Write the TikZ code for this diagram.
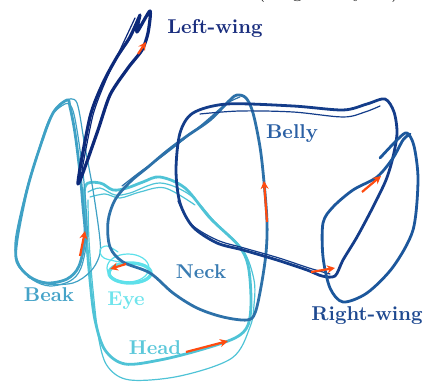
\documentclass[tikz,border=0pt]{standalone}
\usetikzlibrary{arrows.meta}
\definecolor{cLW}{HTML}{0C297A}
\definecolor{cBE}{HTML}{143D8A}
\definecolor{cRW}{HTML}{1C579C}
\definecolor{cNE}{HTML}{2D71A9}
\definecolor{cBK}{HTML}{3FA1C5}
\definecolor{cHD}{HTML}{4FC3D6}
\definecolor{cEY}{HTML}{5EE0EA}
\definecolor{arr}{HTML}{FF4B0F}
\definecolor{lLW}{HTML}{1A2E7E}
\definecolor{lBE}{HTML}{2B60A4}
\definecolor{lRW}{HTML}{1E4990}
\definecolor{lNE}{HTML}{3A7CB2}
\definecolor{lBK}{HTML}{45A3C8}
\definecolor{lEY}{HTML}{70E4EC}
\definecolor{lHD}{HTML}{5CC8DA}
\begin{document}
\begin{tikzpicture}[x=0.5pt,y=-0.5pt,
  stk/.style={line width=1.4pt,line cap=round,line join=round},
  thn/.style={line width=0.6pt,line cap=round,line join=round},
  dirarrow/.style={draw=arr,line width=1.1pt,-{Stealth[length=4pt,width=4pt]}},
  lab/.style={font=\bfseries,inner sep=0pt}]
\useasboundingbox (0,0) rectangle (427,383);
\clip (0,0) rectangle (427,383);

% top caption (cut off by the picture's top edge)
\node[anchor=base west,inner sep=0pt] (topcap) at (257,-2) {(\hspace{13.6pt}g\hspace{25.4pt}y\hspace{13.8pt})};

% Head
\draw[stk,cHD] plot[smooth cycle,tension=0.55] coordinates {(85,187) (100,183) (113,190) (127,188) (143,182) (160,177) (185,188) (210,218) (238,245) (248,265) (251,300) (248,325) (235,338) (200,350) (160,360) (125,364) (105,350) (95,320) (90,280) (86,230)};
\draw[thn,cHD] plot[smooth,tension=0.55] coordinates {(88,192) (100,188) (115,195) (130,193) (160,183) (190,195) (215,222) (243,250) (254,280) (254,305) (250,327) (232,358) (180,376) (130,380) (108,367) (99,340) (93,290) (89,240) (88,200)};
\draw[thn,cHD] plot[smooth,tension=0.55] coordinates {(90,197) (105,194) (120,198) (140,192) (165,188) (195,205)};

% Beak
\draw[stk,cBK] plot[smooth cycle,tension=0.55] coordinates {(67,100) (53,113) (40,147) (27,190) (17,240) (17,262) (30,277) (47,283) (67,279) (79,266) (85,237) (83,207) (80,173) (75,133) (70,107)};
\draw[thn,cBK] plot[smooth cycle,tension=0.55] coordinates {(65,104) (50,118) (38,152) (25,195) (15,243) (20,266) (33,280) (50,286) (70,281) (81,268) (87,238) (86,207) (83,173) (77,130) (72,108)};
\draw[thn,cBK] plot[smooth,tension=0.55] coordinates {(67,100) (77,103) (85,147) (93,190) (100,240) (99,257) (90,272) (73,283) (47,284) (28,277)};

% Eye
\draw[stk,cEY,line width=1.7pt] (130,273) ellipse [x radius=21,y radius=10];
\draw[thn,cEY] (128,268) ellipse [x radius=21,y radius=14];
\draw[thn,cEY] plot[smooth,tension=0.6] coordinates {(120,262) (104,258) (100,250) (107,246) (118,252)};

% Neck
\draw[stk,cNE] plot[smooth cycle,tension=0.55] coordinates {(123,262) (150,273) (173,293) (197,308) (223,317) (247,320) (255,313) (261,287) (266,253) (267,222) (264,182) (260,147) (253,113) (246,98) (237,95) (230,100) (210,120) (187,136) (167,151) (148,167) (130,182) (115,200) (108,222) (110,247)};
\draw[thn,cNE] plot[smooth,tension=0.55] coordinates {(240,97) (226,104) (205,122) (183,140) (160,158) (140,172) (122,186)};

% Belly
\draw[stk,cBE] plot[smooth cycle,tension=0.5] coordinates {(193,113) (227,104) (293,106) (343,110) (367,104) (385,99) (394,112) (397,133) (393,157) (386,180) (373,207) (357,237) (343,260) (335,276) (322,276) (307,270) (277,260) (243,250) (217,243) (193,227) (180,203) (176,170) (180,133)};
\draw[thn,cBE] plot[smooth,tension=0.55] coordinates {(200,114) (240,111) (293,112) (343,117) (365,112) (380,106)};
\draw[thn,cBE] plot[smooth,tension=0.55] coordinates {(178,201) (191,224) (217,240) (244,248) (279,258) (309,268) (330,274)};

% Right-wing
\draw[stk,cRW] plot[smooth,tension=0.5] coordinates {(380,158) (398,139) (407,133) (414,146) (418,180) (413,230) (393,267) (367,293) (343,302) (330,288) (323,257) (323,223) (333,207) (353,190) (377,177) (393,158) (403,140) (410,134)};

% Left-wing
\draw[stk,cLW,line width=1.6pt] plot[smooth,tension=0.45] coordinates {(140,15) (137,32) (150,11) (148,33) (142,50) (128,68) (110,95) (97,133) (78,184) (90,117) (103,83) (117,57) (130,37) (140,15)};
\draw[thn,cLW] plot[smooth,tension=0.45] coordinates {(135,18) (120,50) (106,80) (93,115) (82,170)};

% direction arrows
\coordinate (lw1) at (138,54); \coordinate (lw2) at (146,42);
\coordinate (bk1) at (80,256); \coordinate (bk2) at (85,231);
\coordinate (ey1) at (126,264); \coordinate (ey2) at (110,269);
\coordinate (hd1) at (186,352); \coordinate (hd2) at (228,341);
\coordinate (ne1) at (267,222); \coordinate (ne2) at (264,181);
\coordinate (be1) at (311,272); \coordinate (be2) at (335,268);
\coordinate (rw1) at (362,192); \coordinate (rw2) at (381,176);
\draw[dirarrow] (lw1) -- (lw2);
\draw[dirarrow] (bk1) -- (bk2);
\draw[dirarrow] (ey1) -- (ey2);
\draw[dirarrow] (hd1) -- (hd2);
\draw[dirarrow] (ne1) -- (ne2);
\draw[dirarrow] (be1) -- (be2);
\draw[dirarrow] (rw1) -- (rw2);

% labels
\node[lab,text=lLW] (tLW) at (215,29) {Left-wing};
\node[lab,text=lBE] (tBE) at (292,134) {Belly};
\node[lab,text=lRW] (tRW) at (367,316) {Right-wing};
\node[lab,text=lNE] (tNE) at (201,272) {Neck};
\node[lab,text=lBK] (tBK) at (49,295) {Beak};
\node[lab,text=lEY] (tEY) at (126,301) {Eye};
\node[lab,text=lHD] (tHD) at (155,348) {Head};
\end{tikzpicture}
\end{document}
